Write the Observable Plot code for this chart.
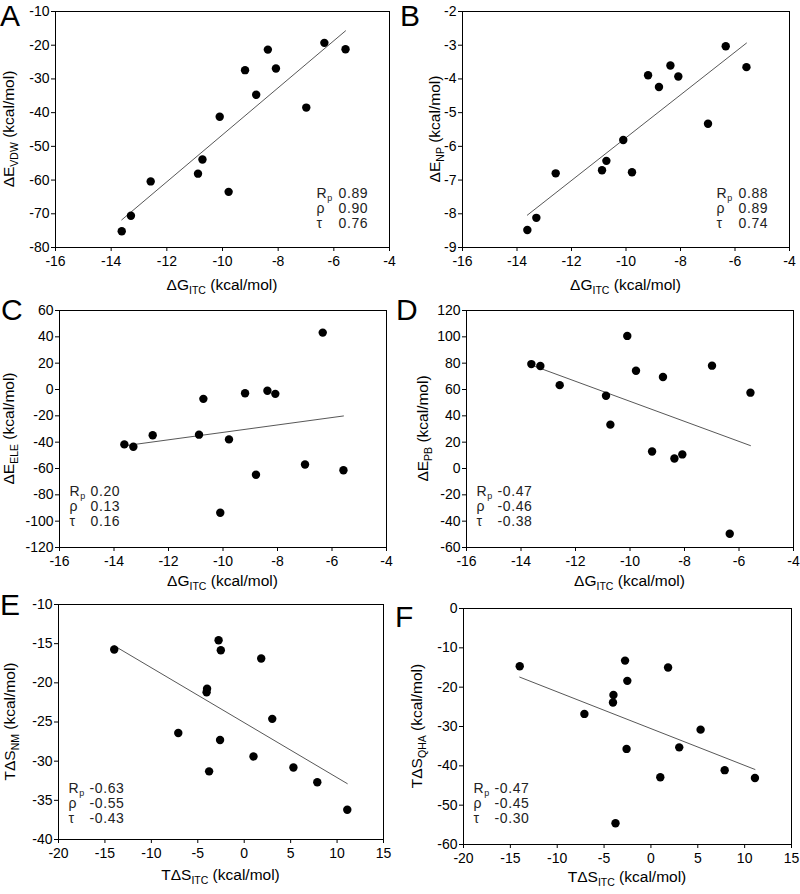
<!DOCTYPE html>
<html><head><meta charset="utf-8">
<script src="https://cdn.jsdelivr.net/npm/d3@7"></script>
<script src="https://cdn.jsdelivr.net/npm/@observablehq/plot@0.6"></script>
<style>
body{margin:0;background:#fff;}
#wrap{position:relative;width:800px;height:894px;font-family:"Liberation Sans",Arial,sans-serif;}
.panel{position:absolute;}
.panel svg{overflow:visible;}
</style></head><body><div id="wrap"></div>
<script>
// ---- data ----
const dGitc   = [-13.62,-13.29,-12.58,-10.88,-10.72,-10.10,-9.78,-9.19,-8.79,-8.37,-8.08,-6.99,-6.34,-5.58];
const dEvdw   = [-75.2,-70.6,-60.4,-58.1,-53.9,-41.2,-63.5,-27.4,-34.7,-21.3,-26.9,-38.5,-19.3,-21.2];
const dEnp    = [-8.48,-8.12,-6.80,-6.71,-6.43,-5.81,-6.77,-3.89,-4.24,-3.60,-3.93,-5.33,-3.03,-3.65];
const dEele   = [-41.7,-43.5,-34.8,-34.3,-7.1,-93.6,-37.9,-2.8,-64.8,-1.0,-3.3,-57.0,43.2,-61.3];
const dEpb    = [79.3,77.8,63.3,55.2,33.3,100.7,74.2,12.9,69.5,7.6,10.7,78.1,-49.5,57.6];
const tdSitc  = [-14.0,-7.1,-4.0,-4.05,-3.78,-2.76,-2.52,-2.60,1.0,1.83,3.02,5.3,7.87,11.1];
const tdSnm   = [-15.75,-26.4,-20.74,-21.2,-31.3,-14.56,-15.84,-27.3,-29.4,-16.9,-24.6,-30.8,-32.7,-36.2];
const tdSqha  = [-14.7,-26.8,-22.0,-23.9,-54.6,-13.25,-18.4,-35.7,-42.9,-15.0,-35.3,-30.8,-41.1,-43.1];

const statNames = ["R", "ρ", "τ"];
const statsA = ["0.89","0.90","0.76"];
const statsB = ["0.88","0.89","0.74"];
const statsC = ["0.20","0.13","0.16"];
const statsD = ["-0.47","-0.46","-0.38"];
const statsE = ["-0.63","-0.55","-0.43"];
const statsF = ["-0.47","-0.45","-0.30"];

const ticksG   = [-16,-14,-12,-10,-8,-6,-4];
const ticksS   = [-20,-15,-10,-5,0,5,10,15];
const ticksA   = [-80,-70,-60,-50,-40,-30,-20,-10];
const ticksB   = [-9,-8,-7,-6,-5,-4,-3,-2];
const ticksC   = [-120,-100,-80,-60,-40,-20,0,20,40,60];
const ticksD   = [-60,-40,-20,0,20,40,60,80,100,120];
const ticksE   = [-40,-35,-30,-25,-20,-15,-10];
const ticksF   = [-60,-50,-40,-30,-20,-10,0];

const letters = ["A","B","C","D","E","F"];
const unit = " (kcal/mol)";

// ---- layout ----
const panels = [
  {letter:letters[0], left:0,   top:0,   w:400, h:295, m:[11,11,48,55], xs:dGitc, ys:dEvdw, xt:ticksG, yt:ticksA, yl:["ΔE","VDW"], xl:["ΔG","ITC"], st:statsA, corner:"right", sdy:-39, ylx:14, xlb:290, lx:0, lb:26},
  {letter:letters[1], left:400, top:0,   w:400, h:295, m:[11,11,48,62], xs:dGitc, ys:dEnp,  xt:ticksG, yt:ticksB, yl:["ΔE","NP"],  xl:["ΔG","ITC"], st:statsB, corner:"right", sdy:-39, ylx:40, xlb:290, lx:0, lb:26},
  {letter:letters[2], left:0,   top:295, w:400, h:295, m:[15,14,43,59], xs:dGitc, ys:dEele, xt:ticksG, yt:ticksC, yl:["ΔE","ELE"], xl:["ΔG","ITC"], st:statsC, corner:"left",  sdy:-41, ylx:14, xlb:291, lx:1, lb:25},
  {letter:letters[3], left:400, top:295, w:400, h:295, m:[15,7,43,66],  xs:dGitc, ys:dEpb,  xt:ticksG, yt:ticksD, yl:["ΔE","PB"],  xl:["ΔG","ITC"], st:statsD, corner:"left",  sdy:-41, ylx:28, xlb:291, lx:-4, lb:25},
  {letter:letters[4], left:0,   top:590, w:400, h:304, m:[14,17,55,58], xs:tdSitc, ys:tdSnm, xt:ticksS, yt:ticksE, yl:["TΔS","NM"], xl:["TΔS","ITC"], st:statsE, corner:"left", sdy:-36, ylx:15, xlb:290, lx:0, lb:25},
  {letter:letters[5], left:400, top:590, w:400, h:304, m:[18,9,50,63],  xs:tdSitc, ys:tdSqha,xt:ticksS, yt:ticksF, yl:["TΔS","QHA"],xl:["TΔS","ITC"], st:statsF, corner:"left", sdy:-41, ylx:22, xlb:292, lx:-5, lb:37},
];

const wrap = document.getElementById("wrap");
const FONT = "'Liberation Sans', Arial, sans-serif";

for (const p of panels) {
  const data = p.xs.map((x, i) => ({x, y: p.ys[i]}));
  const [mt, mr, mb, ml] = p.m;
  const fa = p.corner === "right" ? "bottom-right" : "bottom-left";
  const dxL = p.corner === "right" ? -73 : 10;
  const dxV = p.corner === "right" ? -51 : 31;
  const statMarks = [];
  for (let i = 0; i < 3; i++) {
    statMarks.push(Plot.text([statNames[i]], {text: d => d, frameAnchor: fa, textAnchor: "start", lineAnchor: "middle", dx: dxL, dy: p.sdy + (i - 1) * 15, fontSize: 14, fill: "#222", className: i === 0 ? "rlab" : "slab"}));
    statMarks.push(Plot.text([p.st[i]], {text: d => d, frameAnchor: fa, textAnchor: "start", lineAnchor: "middle", dx: dxV, dy: p.sdy + (i - 1) * 15, fontSize: 14, fill: "#222", className: "sval"}));
  }
  const svg = Plot.plot({
    width: p.w, height: p.h,
    marginTop: mt, marginRight: mr, marginBottom: mb, marginLeft: ml,
    style: {fontFamily: FONT, fontSize: "14px", color: "black", background: "transparent", overflow: "visible"},
    x: {domain: [p.xt[0], p.xt[p.xt.length - 1]], label: null},
    y: {domain: [p.yt[0], p.yt[p.yt.length - 1]], label: null},
    marks: [
      Plot.axisX({ticks: p.xt, tickSize: 4, tickPadding: 5, tickFormat: d => String(d), label: null, fontSize: 14}),
      Plot.axisY({ticks: p.yt, tickSize: 4, tickPadding: 2, tickFormat: d => String(d), label: null, fontSize: 14}),
      Plot.linearRegressionY(data, {x: "x", y: "y", ci: 0, stroke: "#444", strokeWidth: 0.9}),
      Plot.dot(data, {x: "x", y: "y", r: 4.2, fill: "black", stroke: "none"}),
      Plot.frame({stroke: "black", strokeWidth: 1}),
      ...statMarks
    ]
  });
  const s = d3.select(svg);
  s.selectAll("g.sval text, g.rlab text, g.slab text").attr("letter-spacing", 0.6);
  // subscript p on R
  s.selectAll("g.rlab text").append("tspan").attr("dy", 3).attr("font-size", 9).text("p");
  // x label
  const cx = (ml + (p.w - mr)) / 2;
  const xl = s.append("text").attr("x", cx).attr("y", p.xlb).attr("text-anchor", "middle")
    .attr("font-family", FONT).attr("font-size", 15.5).attr("fill", "black");
  xl.append("tspan").text(p.xl[0]);
  xl.append("tspan").attr("dy", 4).attr("font-size", 10.5).text(p.xl[1]);
  xl.append("tspan").attr("dy", -4).text(unit);
  // y label
  const cy = (mt + (p.h - mb)) / 2;
  const yl = s.append("text").attr("transform", `translate(${p.ylx},${cy}) rotate(-90)`).attr("text-anchor", "middle")
    .attr("font-family", FONT).attr("font-size", 15.5).attr("fill", "black");
  yl.append("tspan").text(p.yl[0]);
  yl.append("tspan").attr("dy", 4).attr("font-size", 10.5).text(p.yl[1]);
  yl.append("tspan").attr("dy", -4).text(unit);
  // panel letter
  s.append("text").attr("x", p.lx).attr("y", p.lb).attr("text-anchor", "start")
    .attr("font-family", FONT).attr("font-size", 30).attr("fill", "black").text(p.letter);

  const div = document.createElement("div");
  div.className = "panel";
  div.style.left = p.left + "px";
  div.style.top = p.top + "px";
  div.appendChild(svg);
  wrap.appendChild(div);
}
</script>
</body></html>
